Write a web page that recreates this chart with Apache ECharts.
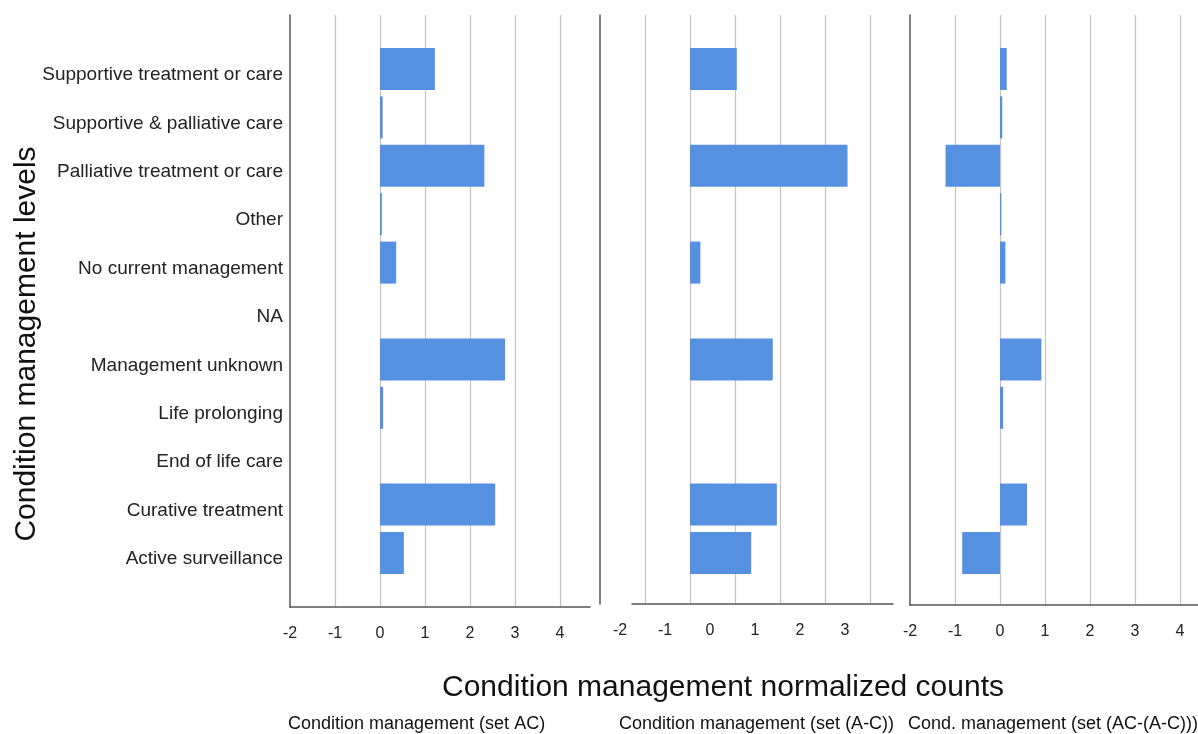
<!DOCTYPE html>
<html>
<head>
<meta charset="utf-8">
<script src="https://cdn.jsdelivr.net/npm/echarts@6/dist/echarts.min.js"></script>
<style>
html,body{margin:0;padding:0;background:#fff;}
#chart{width:1198px;height:734px;}
</style>
</head>
<body>
<div id="chart"></div>
<script>
// ---- data ----
const categories = ['Supportive treatment or care','Supportive & palliative care','Palliative treatment or care','Other','No current management','NA','Management unknown','Life prolonging','End of life care','Curative treatment','Active surveillance'];
const setAC = [1.22, 0.06, 2.32, 0.04, 0.36, 0, 2.78, 0.07, 0, 2.56, 0.53];
const setAminusC = [1.04, 0, 3.5, 0, 0.23, 0, 1.84, 0, 0, 1.93, 1.36];
const setDiff = [0.15, 0.05, -1.21, 0.03, 0.12, 0, 0.92, 0.07, 0, 0.6, -0.84];
const xTicksFull = [-2, -1, 0, 1, 2, 3, 4];
const xTicksMid = [-2, -1, 0, 1, 2, 3];
const panelTitles = ['Condition management (set AC)', 'Condition management (set (A-C))', 'Cond. management (set (AC-(A-C)))'];
const xTitle = 'Condition management normalized counts';
const yTitle = 'Condition management levels';

const FONT = '"Liberation Sans", Arial, sans-serif';
const BAR = '#5591e0';
const panels = [
  {left: 290, right: 608, bottom: 127, max: 4.667, ticks: xTicksFull, data: setAC, pad: [0,0,0,0], lineLeft: null},
  {left: 600, right: 305, bottom: 130, max: 4.511, ticks: xTicksMid, data: setAminusC, pad: [0,0,0,40], lineLeft: 632},
  {left: 910, right: 0, bottom: 129, max: 4.4, ticks: xTicksFull, data: setDiff, pad: [0,0,0,0], lineLeft: null}
];
const grids = [], xAxes = [], yAxes = [], series = [];
panels.forEach((p, i) => {
  // grid for lines and ticks
  grids.push({left: p.left, right: p.right, top: 15, bottom: p.bottom});
  // grid for bars
  grids.push({left: p.left, right: p.right, top: 44.8, bottom: 156.8});
  const gA = grids.length - 2, gB = grids.length - 1;
  xAxes.push({
    type: 'value', gridIndex: gA, min: -2, max: p.max, interval: 1,
    axisLine: {show: p.lineLeft === null, onZero: false, lineStyle: {color: '#555', width: 1.5}},
    axisTick: {show: false},
    axisLabel: {customValues: p.ticks, color: '#222', fontSize: 16, fontFamily: FONT, margin: 19, padding: p.pad},
    splitLine: {show: true, lineStyle: {color: ['transparent','#c4c4c4','#c4c4c4','#c4c4c4','#c4c4c4','#c4c4c4','#c4c4c4','transparent'], width: 1.2}}
  });
  xAxes.push({type: 'value', gridIndex: gB, min: -2, max: p.max, show: false});
  yAxes.push({
    type: 'value', gridIndex: gA, min: 0, max: 1,
    axisLine: {show: true, onZero: false, lineStyle: {color: '#555', width: 1.5}},
    axisTick: {show: false}, axisLabel: {show: false}, splitLine: {show: false}
  });
  yAxes.push({
    type: 'category', gridIndex: gB, data: categories, inverse: true,
    axisLine: {show: false}, axisTick: {show: false},
    axisLabel: {show: i === 0, color: '#222', fontSize: 19, fontFamily: FONT, margin: 7, verticalAlign: 'top', lineHeight: 12},
    splitLine: {show: false}
  });
  series.push({
    type: 'bar', xAxisIndex: gB, yAxisIndex: gB, data: p.data,
    barWidth: 42, itemStyle: {color: BAR}, silent: true, animation: false
  });
  if (p.lineLeft !== null) {
    // shorter baseline for the middle panel
    grids.push({left: p.lineLeft, right: p.right, top: 15, bottom: p.bottom});
    const gC = grids.length - 1;
    xAxes.push({
      type: 'value', gridIndex: gC, min: 0, max: 1,
      axisLine: {show: true, onZero: false, lineStyle: {color: '#555', width: 1.5}},
      axisTick: {show: false}, axisLabel: {show: false}, splitLine: {show: false}
    });
    yAxes.push({type: 'value', gridIndex: gC, min: 0, max: 1, show: false});
  }
});

const chart = echarts.init(document.getElementById('chart'), null, {renderer: 'canvas'});
chart.setOption({
  backgroundColor: '#fff',
  animation: false,
  title: [
    {text: xTitle, left: 437, top: 668, textStyle: {fontSize: 30, fontWeight: 'normal', color: '#111', fontFamily: FONT}},
    {text: panelTitles[0], left: 283, top: 710, textStyle: {fontSize: 18, fontWeight: 'normal', color: '#111', fontFamily: FONT}},
    {text: panelTitles[1], left: 614, top: 710, textStyle: {fontSize: 18, fontWeight: 'normal', color: '#111', fontFamily: FONT}},
    {text: panelTitles[2], left: 903, top: 710, textStyle: {fontSize: 18, fontWeight: 'normal', color: '#111', fontFamily: FONT}}
  ],
  graphic: [{
    type: 'text', x: 27, y: 344, rotation: Math.PI / 2,
    style: {text: yTitle, fontSize: 30, fontFamily: FONT, fill: '#111', align: 'center', verticalAlign: 'middle'}
  }],
  grid: grids, xAxis: xAxes, yAxis: yAxes, series: series
});
</script>
</body>
</html>
